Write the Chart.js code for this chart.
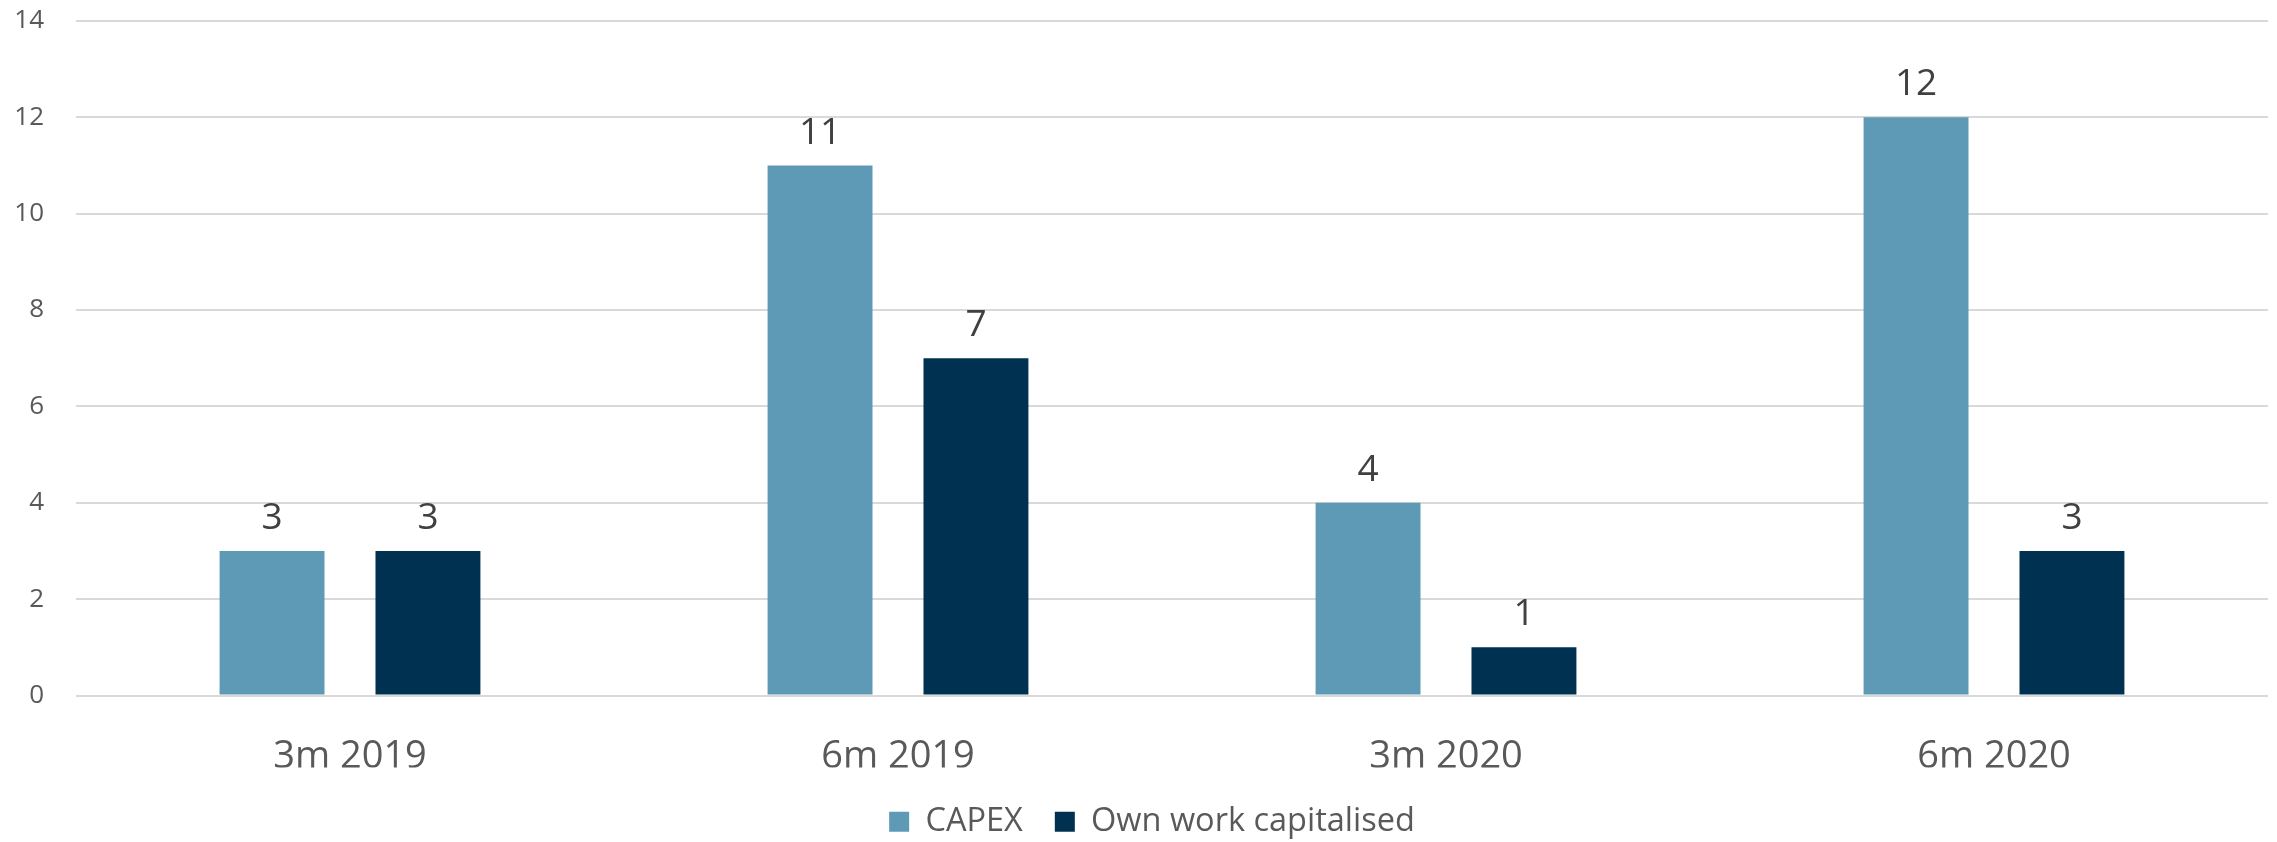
<!DOCTYPE html>
<html>
<head>
<meta charset="utf-8">
<script src="https://cdn.jsdelivr.net/npm/chart.js@4/dist/chart.umd.min.js"></script>
<style>
html,body{margin:0;padding:0;background:#fff;}
#wrap{width:2277px;height:842px;position:relative;}
</style>
</head>
<body>
<div id="wrap"><canvas id="c" width="2277" height="842"></canvas></div>
<script>
const categories = ["3m 2019", "6m 2019", "3m 2020", "6m 2020"];
const capex = [3, 11, 4, 12];
const ownWork = [3, 7, 1, 3];
const seriesNames = ["CAPEX", "Own work capitalised"];
const yTicks = [0, 2, 4, 6, 8, 10, 12, 14];

const FONT = "'Open Sans', sans-serif";

const valueLabels = {
  id: 'valueLabels',
  afterDatasetsDraw(chart) {
    const ctx = chart.ctx;
    ctx.save();
    ctx.font = "37px " + FONT;
    ctx.fillStyle = "#404040";
    ctx.textAlign = "center";
    ctx.textBaseline = "alphabetic";
    chart.data.datasets.forEach((ds, di) => {
      const meta = chart.getDatasetMeta(di);
      meta.data.forEach((bar, i) => {
        ctx.fillText(String(ds.data[i]), bar.x, bar.y - 22);
      });
    });
    ctx.restore();
  }
};

const legendShift = {
  id: 'legendShift',
  afterLayout(chart) {
    const lg = chart.legend;
    if (!lg) return;
    lg.left += 18; lg.right += 18;
    lg.top += 6; lg.bottom += 6;
  }
};

new Chart(document.getElementById('c'), {
  type: 'bar',
  data: {
    labels: categories,
    datasets: [
      { label: seriesNames[0], data: capex, backgroundColor: '#5E9AB5', categoryPercentage: 0.569, barPercentage: 0.673 },
      { label: seriesNames[1], data: ownWork, backgroundColor: '#003150', categoryPercentage: 0.569, barPercentage: 0.673 }
    ]
  },
  options: {
    responsive: false,
    animation: false,
    layout: { padding: { top: 6, right: 9, left: 0, bottom: 0 } },
    plugins: {
      legend: {
        position: 'bottom',
        labels: {
          font: { family: FONT, size: 32.5, lineHeight: 1 },
          color: '#595959',
          boxWidth: 20,
          boxHeight: 20,
          padding: 32
        }
      },
      tooltip: { enabled: false }
    },
    scales: {
      x: {
        afterFit(scale) { scale.height = 72; },
        grid: { display: false, drawTicks: false },
        border: { display: false },
        ticks: { font: { family: FONT, size: 38, lineHeight: 1 }, color: '#595959', padding: 43 }
      },
      y: {
        min: 0, max: 14,
        afterBuildTicks(scale) { scale.ticks = yTicks.map(v => ({ value: v })); },
        afterFit(scale) { scale.width = 76; scale.paddingTop = 21; scale.paddingBottom = 0; },
        grid: { color: '#d9d9d9', lineWidth: 2, drawTicks: false },
        border: { display: false },
        ticks: { font: { family: FONT, size: 26 }, color: '#595959', padding: 32 }
      }
    }
  },
  plugins: [valueLabels, legendShift]
});
</script>
</body>
</html>
